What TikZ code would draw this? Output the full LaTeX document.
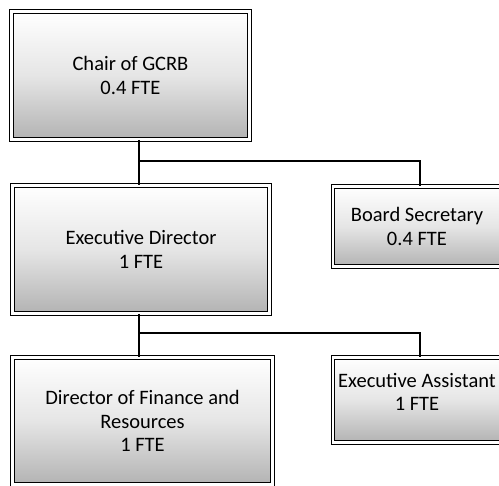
\documentclass[tikz,border=0pt]{standalone}
\usepackage{fontspec}
\setmainfont{Carlito}
\begin{document}
\begin{tikzpicture}[x=1pt,y=1pt,
  boxtext/.style={inner sep=0pt, align=center, font=\fontsize{20.5}{23.5}\selectfont},
  orgbox/.style={rectangle, draw=black, line width=1pt, double=white, double distance=2.2pt,
    top color=white, bottom color=black!30, middle color=black!10, boxtext},
  link/.style={draw=black, line width=1.6pt}]
\useasboundingbox (0,0) rectangle (499,486);
\node[orgbox, minimum width=238, minimum height=128] (chair) at (130.5,410.5) {Chair of GCRB\\0.4 FTE};
\node[orgbox, minimum width=257, minimum height=128] (exec) at (141,236.5) {Executive Director\\1 FTE};
\node[orgbox, minimum width=168, minimum height=80] (board) at (417,259.5) {Board Secretary\\0.4 FTE};
\node[orgbox, minimum width=260, minimum height=127] (dfr) at (142.5,65) {Director of Finance and\\Resources\\1 FTE};
\node[orgbox, minimum width=168, minimum height=85] (ea) at (417,86) {};
\node[boxtext] (eatext) at ([yshift=8]ea.center) {Executive Assistant\\1 FTE};
\coordinate (j1) at (139,325);
\coordinate (j2) at (139,153);
\draw[link] (chair.south -| j1) -- (exec.north -| j1);
\draw[link] (j1) -| ([xshift=3]board.north);
\draw[link] (exec.south -| j2) -- (dfr.north -| j2);
\draw[link] (j2) -| ([xshift=3]ea.north);
\end{tikzpicture}
\end{document}
